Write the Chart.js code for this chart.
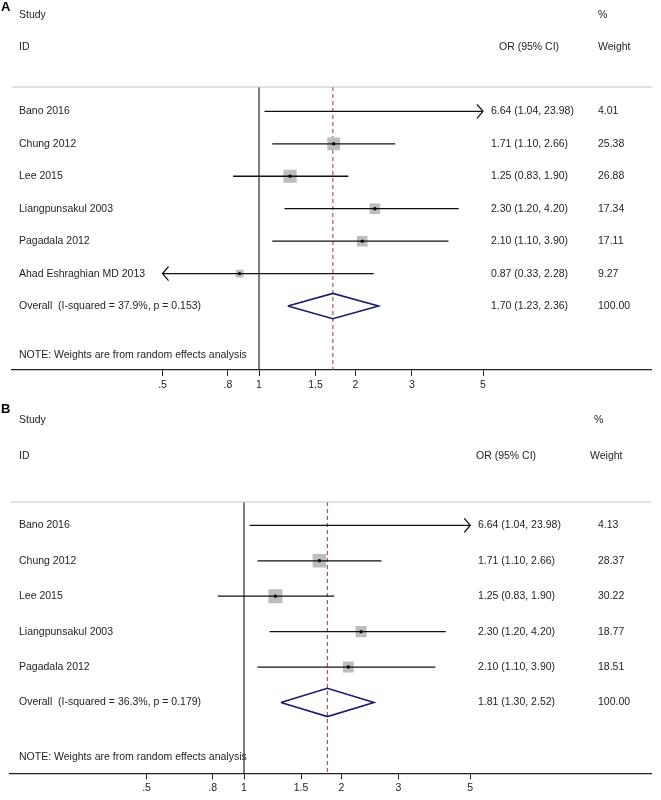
<!DOCTYPE html>
<html><head><meta charset="utf-8">
<script src="https://cdn.jsdelivr.net/npm/chart.js@4/dist/chart.umd.min.js"></script>
<style>
html,body{margin:0;padding:0;background:#fff;}
#wrap{position:relative;width:661px;height:800px;background:#fff;}
canvas{position:absolute;left:0;}
</style></head><body>
<div id="wrap">
<canvas id="cA" width="661" height="400" style="top:0px"></canvas>
<canvas id="cB" width="661" height="400" style="top:400px"></canvas>
</div>
<script>
// ---------- DATA ----------
const tickValues = [0.5, 0.8, 1, 1.5, 2, 3, 5];
const tickLabels = ['.5', '.8', '1', '1.5', '2', '3', '5'];

const studiesA = ['Bano 2016', 'Chung 2012', 'Lee 2015', 'Liangpunsakul 2003', 'Pagadala 2012', 'Ahad Eshraghian MD 2013'];
const orA      = [6.64, 1.71, 1.25, 2.30, 2.10, 0.87];
const lowA     = [1.04, 1.10, 0.83, 1.20, 1.10, 0.33];
const highA    = [23.98, 2.66, 1.90, 4.20, 3.90, 2.28];
const weightA  = [4.01, 25.38, 26.88, 17.34, 17.11, 9.27];
const overallA = [1.70, 1.23, 2.36];
const hetA     = ['37.9%', '0.153'];

const studiesB = ['Bano 2016', 'Chung 2012', 'Lee 2015', 'Liangpunsakul 2003', 'Pagadala 2012'];
const orB      = [6.64, 1.71, 1.25, 2.30, 2.10];
const lowB     = [1.04, 1.10, 0.83, 1.20, 1.10];
const highB    = [23.98, 2.66, 1.90, 4.20, 3.90];
const weightB  = [4.13, 28.37, 30.22, 18.77, 18.51];
const overallB = [1.81, 1.30, 2.52];
const hetB     = ['36.3%', '0.179'];

const noteText = 'NOTE: Weights are from random effects analysis';

// ---------- STYLE / LAYOUT ----------
const FONT = '"Liberation Sans", Arial, Helvetica, sans-serif';
const FS = 10.5;
const TXT = '#1e1e1e';

const layoutA = {
  panel: 'A', padL: 12, padR: 6, padT: 87, axisH: 30,
  xMin: 0.1695, xMax: 16.80, yMin: -0.75, yMax: 7.97, dh: 0.39,
  studyY: 15, idY: 47, colValX: 491, colOrHeadX: 499, colWX: 598, pctHeadX: 598, wHeadX: 598,
  noteRow: 7.5, labelY: 7
};
const layoutB = {
  panel: 'B', padL: 5, padR: 6, padT: 102, axisH: 26.7,
  xMin: 0.1891, xMax: 18.10, yMin: -0.66, yMax: 7.0, dh: 0.40,
  studyY: 20, idY: 56, colValX: 478, colOrHeadX: 476, colWX: 598, pctHeadX: 594, wHeadX: 590,
  noteRow: 6.53, labelY: 9
};

function fmt(v) { return v.toFixed(2); }

const forestPlugin = {
  id: 'forestText',
  afterDatasetsDraw(chart) {
    const P = chart.options.plugins.forestText;
    const ctx = chart.ctx;
    const xs = chart.scales.x, ys = chart.scales.y;
    const ca = chart.chartArea;
    const tmin = tickValues[0], tmax = tickValues[tickValues.length - 1];
    ctx.save();
    // header separator line
    ctx.strokeStyle = '#c4c4c4';
    ctx.lineWidth = 1.2;
    ctx.beginPath();
    ctx.moveTo(ca.left, ca.top);
    ctx.lineTo(ca.right, ca.top);
    ctx.stroke();
    // arrows for clipped CIs
    ctx.strokeStyle = '#111';
    ctx.lineWidth = 1.3;
    P.or.forEach((v, i) => {
      const y = ys.getPixelForValue(i);
      if (P.hi[i] > tmax) {
        const x = xs.getPixelForValue(tmax);
        ctx.beginPath();
        ctx.moveTo(x - 6, y - 7); ctx.lineTo(x, y); ctx.lineTo(x - 6, y + 7);
        ctx.stroke();
      }
      if (P.lo[i] < tmin) {
        const x = xs.getPixelForValue(tmin);
        ctx.beginPath();
        ctx.moveTo(x + 6, y - 7); ctx.lineTo(x, y); ctx.lineTo(x + 6, y + 7);
        ctx.stroke();
      }
    });
    // texts
    ctx.fillStyle = TXT;
    ctx.textBaseline = 'middle';
    ctx.textAlign = 'left';
    ctx.font = `${FS}px ${FONT}`;
    ctx.fillText('Study', 19, P.studyY);
    ctx.fillText('ID', 19, P.idY);
    ctx.fillText('%', P.pctHeadX, P.studyY);
    ctx.fillText('Weight', P.wHeadX, P.idY);
    ctx.fillText('OR (95% CI)', P.colOrHeadX, P.idY);
    P.studies.forEach((s, i) => {
      const y = ys.getPixelForValue(i);
      ctx.fillText(s, 19, y);
      ctx.fillText(`${fmt(P.or[i])} (${fmt(P.lo[i])}, ${fmt(P.hi[i])})`, P.colValX, y);
      ctx.fillText(fmt(P.weight[i]), P.colWX, y);
    });
    const n = P.studies.length;
    const yo = ys.getPixelForValue(n);
    ctx.fillText(`Overall  (I-squared = ${P.het[0]}, p = ${P.het[1]})`, 19, yo);
    ctx.fillText(`${fmt(P.overall[0])} (${fmt(P.overall[1])}, ${fmt(P.overall[2])})`, P.colValX, yo);
    ctx.fillText('100.00', P.colWX, yo);
    ctx.fillText(noteText, 19, ys.getPixelForValue(P.noteRow));
    // panel label
    ctx.font = `bold 13px ${FONT}`;
    ctx.fillStyle = '#000';
    ctx.fillText(P.panel, 1, P.labelY);
    ctx.restore();
  }
};

function makePanel(canvasId, L, studies, or, lo, hi, weight, overall, het) {
  const tmin = tickValues[0], tmax = tickValues[tickValues.length - 1];
  const ds = [];
  // reference line at OR = 1
  ds.push({ data: [{ x: 1, y: L.yMin }, { x: 1, y: L.yMax }], showLine: true,
    borderColor: '#2a2a2a', borderWidth: 1.2, pointRadius: 0, order: 7 });
  // overall effect dashed line
  ds.push({ data: [{ x: overall[0], y: L.yMin }, { x: overall[0], y: L.yMax }], showLine: true,
    borderColor: '#a8565e', borderWidth: 1.2, borderDash: [4, 3], pointRadius: 0, order: 6 });
  // weighted boxes (only when estimate is on scale)
  const idx = or.map((v, i) => i).filter(i => or[i] >= tmin && or[i] <= tmax);
  ds.push({ data: idx.map(i => ({ x: or[i], y: i })), showLine: false,
    pointStyle: 'rect', backgroundColor: '#bdbdbd', borderWidth: 0,
    pointRadius: c => 1.8 * Math.sqrt(weight[idx[c.dataIndex]]), order: 5 });
  // CI lines (clipped to axis range)
  or.forEach((v, i) => {
    ds.push({ data: [{ x: Math.max(lo[i], tmin), y: i }, { x: Math.min(hi[i], tmax), y: i }],
      showLine: true, borderColor: '#111', borderWidth: 1.3, pointRadius: 0, order: 3 });
  });
  // overall diamond
  const n = or.length;
  ds.push({ data: [{ x: overall[1], y: n }, { x: overall[0], y: n - L.dh }, { x: overall[2], y: n },
      { x: overall[0], y: n + L.dh }, { x: overall[1], y: n }],
    showLine: true, fill: false, borderColor: '#1b1b6f', borderWidth: 1.6, borderJoinStyle: 'miter',
    pointRadius: 0, order: 2 });
  // point estimates (small black dots)
  ds.push({ data: idx.map(i => ({ x: or[i], y: i })), showLine: false,
    pointStyle: 'circle', backgroundColor: '#000', borderWidth: 0, pointRadius: 1.7, order: 1 });

  return new Chart(document.getElementById(canvasId), {
    type: 'scatter',
    data: { datasets: ds },
    options: {
      responsive: false, animation: false, events: [], devicePixelRatio: 1,
      layout: { padding: { left: L.padL, right: L.padR, top: L.padT, bottom: 0 } },
      plugins: {
        legend: { display: false }, tooltip: { enabled: false },
        forestText: Object.assign({}, L, { studies, or, lo, hi, weight, overall, het })
      },
      scales: {
        x: {
          type: 'logarithmic', min: L.xMin, max: L.xMax, bounds: 'data',
          afterBuildTicks: s => { s.ticks = tickValues.map(v => ({ value: v })); },
          afterFit: s => { s.height = L.axisH; },
          ticks: { autoSkip: false, maxRotation: 0, minRotation: 0, padding: 3, color: TXT,
            font: { family: FONT, size: FS },
            callback: (v, i) => tickLabels[i] },
          grid: { drawOnChartArea: false, drawTicks: true, tickLength: 6, color: '#222', lineWidth: 1 },
          border: { display: true, color: '#222', width: 1.2 }
        },
        y: { type: 'linear', display: false, min: L.yMin, max: L.yMax, reverse: true, bounds: 'data' }
      }
    },
    plugins: [forestPlugin]
  });
}

makePanel('cA', layoutA, studiesA, orA, lowA, highA, weightA, overallA, hetA);
makePanel('cB', layoutB, studiesB, orB, lowB, highB, weightB, overallB, hetB);
</script>
</body></html>
